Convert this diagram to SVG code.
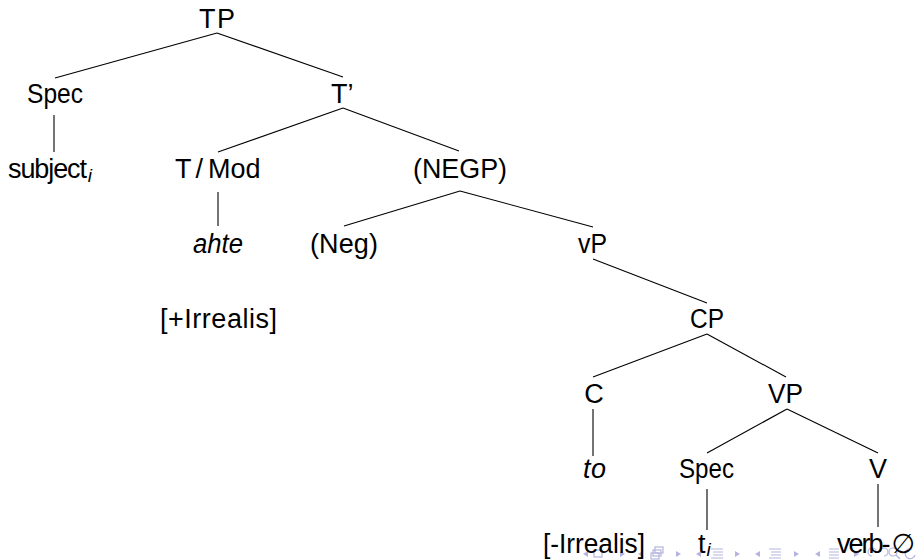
<svg xmlns="http://www.w3.org/2000/svg" width="921" height="560" viewBox="0 0 921 560">
<style>
  .lbl { font-family: "Liberation Sans", Arial, sans-serif; font-size: 27px; fill: #000; }
  .mid { text-anchor: middle; }
  .it { font-style: italic; }
  .sub { font-size: 19px; font-style: italic; }
  .edge { stroke: #000; stroke-width: 1.1; fill: none; }
  .nav { fill: #b4b4e0; stroke: none; }
  .navs { stroke: #b4b4e0; stroke-width: 1.2; fill: none; }
</style>
<rect width="921" height="560" fill="#fff"/>

<g id="connectors">
  <line class="edge" x1="217" y1="33" x2="55" y2="78"/>
  <line class="edge" x1="217" y1="33" x2="343" y2="77"/>
  <line class="edge" x1="54" y1="115" x2="54" y2="152"/>
  <line class="edge" x1="343" y1="108" x2="218" y2="152"/>
  <line class="edge" x1="343" y1="108" x2="459" y2="151"/>
  <line class="edge" x1="218" y1="192" x2="218" y2="226"/>
  <line class="edge" x1="460" y1="191" x2="344" y2="226"/>
  <line class="edge" x1="460" y1="191" x2="593" y2="227"/>
  <line class="edge" x1="593" y1="259" x2="707" y2="303"/>
  <line class="edge" x1="707" y1="334" x2="593" y2="377"/>
  <line class="edge" x1="707" y1="334" x2="786" y2="377"/>
  <line class="edge" x1="593" y1="409" x2="593" y2="456"/>
  <line class="edge" x1="787" y1="409" x2="707" y2="453"/>
  <line class="edge" x1="787" y1="409" x2="878" y2="453"/>
  <line class="edge" x1="707" y1="489" x2="707" y2="530"/>
  <line class="edge" x1="878" y1="484" x2="878" y2="527"/>
</g>

<g id="nav">
  <path class="nav" d="M588,551 L583,554 L588,557 Z"/>
  <rect class="navs" x="594" y="550" width="8" height="7"/>
  <path class="nav" d="M620,551 L625,554 L620,557 Z"/>
  <path class="nav" d="M643,551 L638,554 L643,557 Z"/>
  <rect class="navs" x="651" y="553" width="8" height="6"/>
  <rect class="navs" x="653" y="550" width="8" height="6"/>
  <rect class="navs" x="655" y="547" width="8" height="6"/>
  <path class="nav" d="M676,551 L681,554 L676,557 Z"/>
  <path class="nav" d="M701,551 L696,554 L701,557 Z"/>
  <path class="navs" d="M711,549 h12 M713,552 h10 M713,555 h10 M711,558 h12"/>
  <path class="nav" d="M735,551 L740,554 L735,557 Z"/>
  <path class="nav" d="M760,551 L755,554 L760,557 Z"/>
  <path class="navs" d="M769,549 h12 M771,552 h10 M771,555 h10 M769,558 h12"/>
  <path class="nav" d="M794,551 L799,554 L794,557 Z"/>
  <path class="nav" d="M820,551 L815,554 L820,557 Z"/>
  <path class="navs" d="M829,549 h10 M829,552 h10 M829,555 h10 M829,558 h10"/>
  <path class="nav" d="M854,551 L859,554 L854,557 Z"/>
  <path class="navs" d="M872,556 a4,4 0 1 1 4,-4 M880,552 a4,4 0 1 1 4,4"/>
  <circle class="navs" cx="893" cy="552" r="4"/>
  <path class="navs" d="M896,555 l4,4"/>
  <path class="navs" d="M912,549 a5,5 0 1 0 3,6"/>
</g>

<g id="n-TP"><text class="lbl" x="199" y="28" textLength="36" lengthAdjust="spacing">TP</text></g>
<g id="n-Spec1"><text class="lbl" x="27" y="103" textLength="56" lengthAdjust="spacingAndGlyphs">Spec</text></g>
<g id="n-Tbar"><text class="lbl" x="331" y="103">T’</text></g>
<g id="n-subject"><text class="lbl" x="8" y="178"><tspan letter-spacing="-1.1">subject</tspan><tspan class="sub" dx="2" dy="4">i</tspan></text></g>
<g id="n-TMod"><text class="lbl" x="175" y="178">T<tspan dx="4">/</tspan><tspan dx="5">Mod</tspan></text></g>
<g id="n-NEGP"><text class="lbl" x="413" y="178" textLength="94" lengthAdjust="spacingAndGlyphs">(NEGP)</text></g>
<g id="n-ahte"><text class="lbl it" x="193" y="253" textLength="50" lengthAdjust="spacingAndGlyphs">ahte</text></g>
<g id="n-Neg"><text class="lbl" x="310" y="253" textLength="68" lengthAdjust="spacing">(Neg)</text></g>
<g id="n-vP"><text class="lbl" x="578" y="253" textLength="29" lengthAdjust="spacingAndGlyphs">vP</text></g>
<g id="n-plusIrrealis"><text class="lbl" x="160" y="328" textLength="117" lengthAdjust="spacing">[+Irrealis]</text></g>
<g id="n-CP"><text class="lbl" x="690" y="328" textLength="34" lengthAdjust="spacingAndGlyphs">CP</text></g>
<g id="n-C"><text class="lbl mid" x="594" y="403">C</text></g>
<g id="n-VP"><text class="lbl" x="768" y="403" textLength="35" lengthAdjust="spacingAndGlyphs">VP</text></g>
<g id="n-to"><text class="lbl it" x="583" y="478" textLength="23" lengthAdjust="spacing">to</text></g>
<g id="n-Spec2"><text class="lbl" x="679" y="478" textLength="55" lengthAdjust="spacingAndGlyphs">Spec</text></g>
<g id="n-V"><text class="lbl mid" x="878" y="478">V</text></g>
<g id="n-minusIrrealis"><text class="lbl" x="543" y="553" textLength="102" lengthAdjust="spacingAndGlyphs">[-Irrealis]</text></g>
<g id="n-trace"><text class="lbl" x="698" y="553">t<tspan class="sub" dx="1" dy="3">i</tspan></text></g>
<g id="n-verb"><text class="lbl" x="837" y="553"><tspan letter-spacing="-2">verb-</tspan><tspan dx="3" style="font-family:'DejaVu Sans',sans-serif">∅</tspan></text></g>
</svg>
